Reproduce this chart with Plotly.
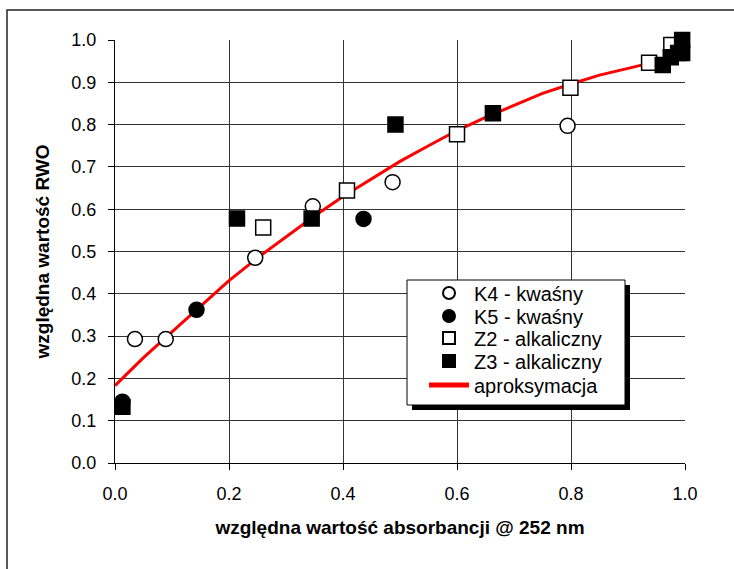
import plotly.graph_objects as go

# ---- data ----
k4_x = [0.035, 0.089, 0.246, 0.347, 0.487, 0.794]
k4_y = [0.293, 0.293, 0.485, 0.607, 0.664, 0.797]

k5_x = [0.013, 0.143, 0.436]
k5_y = [0.145, 0.362, 0.577]

z2_x = [0.260, 0.407, 0.600, 0.799, 0.937, 0.976]
z2_y = [0.557, 0.644, 0.777, 0.887, 0.946, 0.988]

z3_x = [0.013, 0.214, 0.345, 0.492, 0.663, 0.961, 0.975, 0.988, 0.995, 0.995]
z3_y = [0.133, 0.578, 0.578, 0.800, 0.827, 0.941, 0.959, 0.969, 1.000, 0.969]

fit_x = [0.00, 0.05, 0.10, 0.15, 0.20, 0.25, 0.30, 0.35, 0.40, 0.45,
         0.50, 0.55, 0.60, 0.65, 0.70, 0.75, 0.80, 0.85, 0.90, 0.94]
fit_y = [0.183, 0.249, 0.310, 0.371, 0.431, 0.485, 0.535, 0.584, 0.630, 0.672,
         0.713, 0.750, 0.786, 0.817, 0.846, 0.874, 0.896, 0.917, 0.933, 0.946]

names = ["K4 - kwaśny", "K5 - kwaśny", "Z2 - alkaliczny", "Z3 - alkaliczny", "aproksymacja"]
x_ticks = [0.0, 0.2, 0.4, 0.6, 0.8, 1.0]
y_ticks = [0.0, 0.1, 0.2, 0.3, 0.4, 0.5, 0.6, 0.7, 0.8, 0.9, 1.0]

FONT = "Liberation Sans, Arial, sans-serif"

fig = go.Figure()
fig.add_trace(go.Scatter(x=fit_x, y=fit_y, mode="lines", name=names[4], legend="legend5",
                         line=dict(color="#ff0000", width=3)))
fig.add_trace(go.Scatter(x=k4_x, y=k4_y, mode="markers", name=names[0], legend="legend",
                         marker=dict(symbol="circle", size=15, color="white",
                                     line=dict(color="black", width=1.5)), cliponaxis=False))
fig.add_trace(go.Scatter(x=k5_x, y=k5_y, mode="markers", name=names[1], legend="legend2",
                         marker=dict(symbol="circle", size=15, color="black",
                                     line=dict(color="black", width=1.5)), cliponaxis=False))
fig.add_trace(go.Scatter(x=z2_x, y=z2_y, mode="markers", name=names[2], legend="legend3",
                         marker=dict(symbol="square", size=15, color="white",
                                     line=dict(color="black", width=1.5)), cliponaxis=False))
fig.add_trace(go.Scatter(x=z3_x, y=z3_y, mode="markers", name=names[3], legend="legend4",
                         marker=dict(symbol="square", size=15, color="black",
                                     line=dict(color="black", width=1.5)), cliponaxis=False))

# plot area in pixels: x 115..685, y 40..463
L, R, T, B = 115, 685, 40, 463
def px(x):
    return (x - L) / (R - L)
def py(y):
    return (B - y) / (B - T)

shapes = [
    # outer frame (only left/top visible)
    dict(type="rect", xref="paper", yref="paper", x0=px(7), x1=px(745), y0=py(580), y1=py(10),
         line=dict(color="#222", width=1.5), fillcolor="rgba(0,0,0,0)", layer="above"),
    # legend shadow
    dict(type="rect", xref="paper", yref="paper", x0=px(412), x1=px(630), y0=py(410), y1=py(285),
         line=dict(width=0), fillcolor="black", layer="above"),
    # legend box
    dict(type="rect", xref="paper", yref="paper", x0=px(407), x1=px(625), y0=py(405), y1=py(280),
         line=dict(color="black", width=1), fillcolor="white", layer="above"),
]

axis_common = dict(
    showgrid=True, gridcolor="#333333", gridwidth=1,
    showline=True, linecolor="black", linewidth=1,
    ticks="outside", ticklen=6, tickcolor="black", tickwidth=1,
    zeroline=False, tickformat=".1f",
    tickfont=dict(family=FONT, size=18, color="black"),
)

def legend_at(row_y):
    return dict(x=px(424), xanchor="left", y=py(row_y), yanchor="middle",
                bgcolor="rgba(0,0,0,0)", borderwidth=0,
                font=dict(family=FONT, size=20, color="black"),
                itemsizing="constant", itemwidth=40)

rows = [293, 316, 338, 361, 385]

fig.update_layout(
    width=734, height=569,
    margin=dict(l=L, r=734 - R, t=T, b=569 - B),
    paper_bgcolor="white", plot_bgcolor="white",
    font=dict(family=FONT, color="black"),
    shapes=shapes,
    xaxis=dict(range=[0, 1], tickvals=x_ticks, ticklabelstandoff=8,
               title=dict(text="<b>względna wartość absorbancji @ 252 nm</b>",
                          font=dict(family=FONT, size=19), standoff=18),
               **axis_common),
    yaxis=dict(range=[0, 1], tickvals=y_ticks, ticklabelstandoff=8,
               title=dict(text="<b>względna wartość RWO</b>",
                          font=dict(family=FONT, size=19), standoff=16),
               **axis_common),
    legend=legend_at(rows[0]),
    legend2=legend_at(rows[1]),
    legend3=legend_at(rows[2]),
    legend4=legend_at(rows[3]),
    legend5=legend_at(rows[4]),
    showlegend=True,
)

fig.write_html("out.html")
